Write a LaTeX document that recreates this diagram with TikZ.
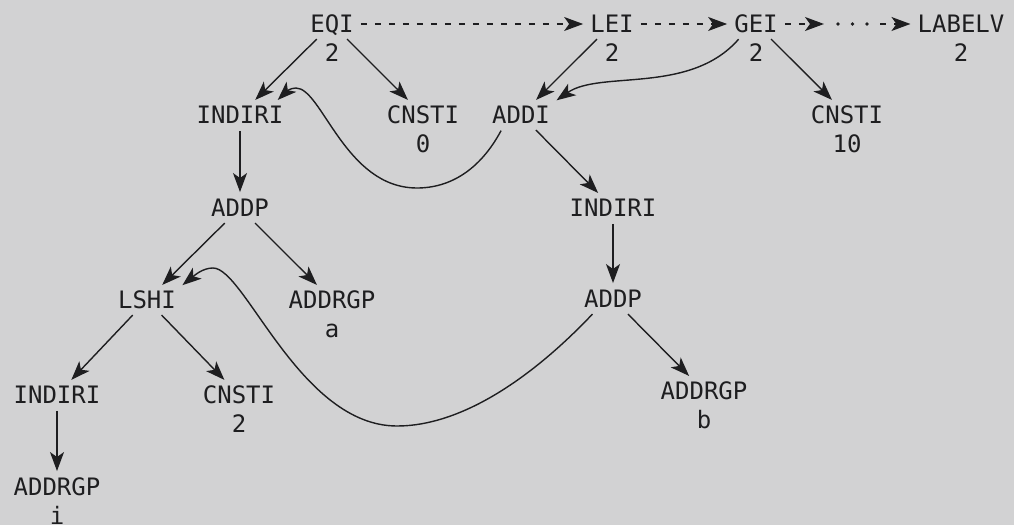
\documentclass[tikz,border=0pt]{standalone}
\usepackage{fontspec}
\setmonofont{DejaVu Sans Mono}
\usetikzlibrary{arrows.meta,positioning}
\definecolor{paper}{RGB}{210,210,211}
\definecolor{ink}{RGB}{30,30,32}
\tikzset{
  op/.style={font=\ttfamily\fontsize{24}{29}\selectfont,text=ink,inner sep=4pt,text height=17.5pt,text depth=0pt},
  num/.style={op},
  link/.style={draw=ink,line width=1.4pt,-{Stealth[length=19pt,width=14pt,inset=5pt]},shorten >=3pt,shorten <=3pt},
  dlink/.style={link,dash pattern=on 6pt off 8pt},
  dotline/.style={draw=ink,line width=3.6pt,line cap=round,dash pattern=on 0pt off 14.5pt},
}

\begin{document}
\begin{tikzpicture}[x=1pt,y=-1pt]
  \fill[paper] (0,0) rectangle (1014,525);
  % forest roots
  \node[op] (eqi) at (332,24) {EQI};
  \node[num,below=3pt of eqi] (eqin) {2};
  \node[op] (lei) at (612,24) {LEI};
  \node[num,below=3pt of lei] (lein) {2};
  \node[op] (gei) at (756,24) {GEI};
  \node[num,below=3pt of gei] (gein) {2};
  \node[op] (labelv) at (961,24) {LABELV};
  \node[num,below=3pt of labelv] (labelvn) {2};
  \coordinate (dotsA) at (827,24);
  \coordinate (dotsB) at (838,24);
  \coordinate (dotsC) at (868,24);
  \coordinate (dotsD) at (880,24);
  % trees
  \node[op] (indiriA) at (240,115) {INDIRI};
  \node[op] (cnstiA) at (423,115) {CNSTI};
  \node[num,below=3pt of cnstiA] (cnstiAn) {0};
  \node[op] (addi) at (521,115) {ADDI};
  \node[op] (cnstiB) at (847,115) {CNSTI};
  \node[num,below=3pt of cnstiB] (cnstiBn) {10};
  \node[op] (addpA) at (240,208) {ADDP};
  \node[op] (indiriB) at (613,208) {INDIRI};
  \node[op] (lshi) at (147,300) {LSHI};
  \node[op] (addrgpA) at (332,300) {ADDRGP};
  \node[num,below=3pt of addrgpA] (addrgpAn) {a};
  \node[op] (addpB) at (613,299) {ADDP};
  \node[op] (indiriC) at (57,395) {INDIRI};
  \node[op] (cnstiC) at (239,395) {CNSTI};
  \node[num,below=3pt of cnstiC] (cnstiCn) {2};
  \node[op] (addrgpB) at (704,391) {ADDRGP};
  \node[num,below=3pt of addrgpB] (addrgpBn) {b};
  \node[op] (addrgpC) at (57,487) {ADDRGP};
  \node[num,below=3pt of addrgpC] (addrgpCn) {i};

  % forest links
  \draw[dlink] (eqi) -- (lei);
  \draw[dlink] (lei) -- (gei);
  \draw[dlink] (gei) -- (dotsA);
  \draw[dotline] (dotsB) -- (dotsC);
  \draw[dlink,shorten <=0pt] (dotsD) -- (labelv);

  \draw[link] (eqi) -- (indiriA);
  \draw[link] (eqi) -- (cnstiA);
  \draw[link] (lei) -- (addi);
  \draw[link] (gei) -- (cnstiB);
  \draw[link] (indiriA) -- (addpA);
  \draw[link] (addi) -- (indiriB);
  \draw[link] (indiriB) -- (addpB);
  \draw[link] (addpA) -- (lshi);
  \draw[link] (addpA) -- (addrgpA);
  \draw[link] (addpB) -- (addrgpB);
  \draw[link] (lshi) -- (indiriC);
  \draw[link] (lshi) -- (cnstiC);
  \draw[link] (indiriC) -- (addrgpC);

  % shared subtrees
  \draw[link] (addi.215) .. controls (480,170) and (450,188) .. (417,188)
    .. controls (345,188) and (322,88) .. (296,88)
    .. controls (290,88) and (286,92) .. ([xshift=-12pt]indiriA.north east);
  \draw[link] (gei.220) .. controls (690,95) and (600,70) .. (addi.north east);
  \draw[link] (addpB.215) .. controls (530,380) and (460,426) .. (397,426)
    .. controls (300,426) and (245,268) .. (213,268)
    .. controls (203,268) and (195,275) .. (lshi.north east);
\end{tikzpicture}
\end{document}
